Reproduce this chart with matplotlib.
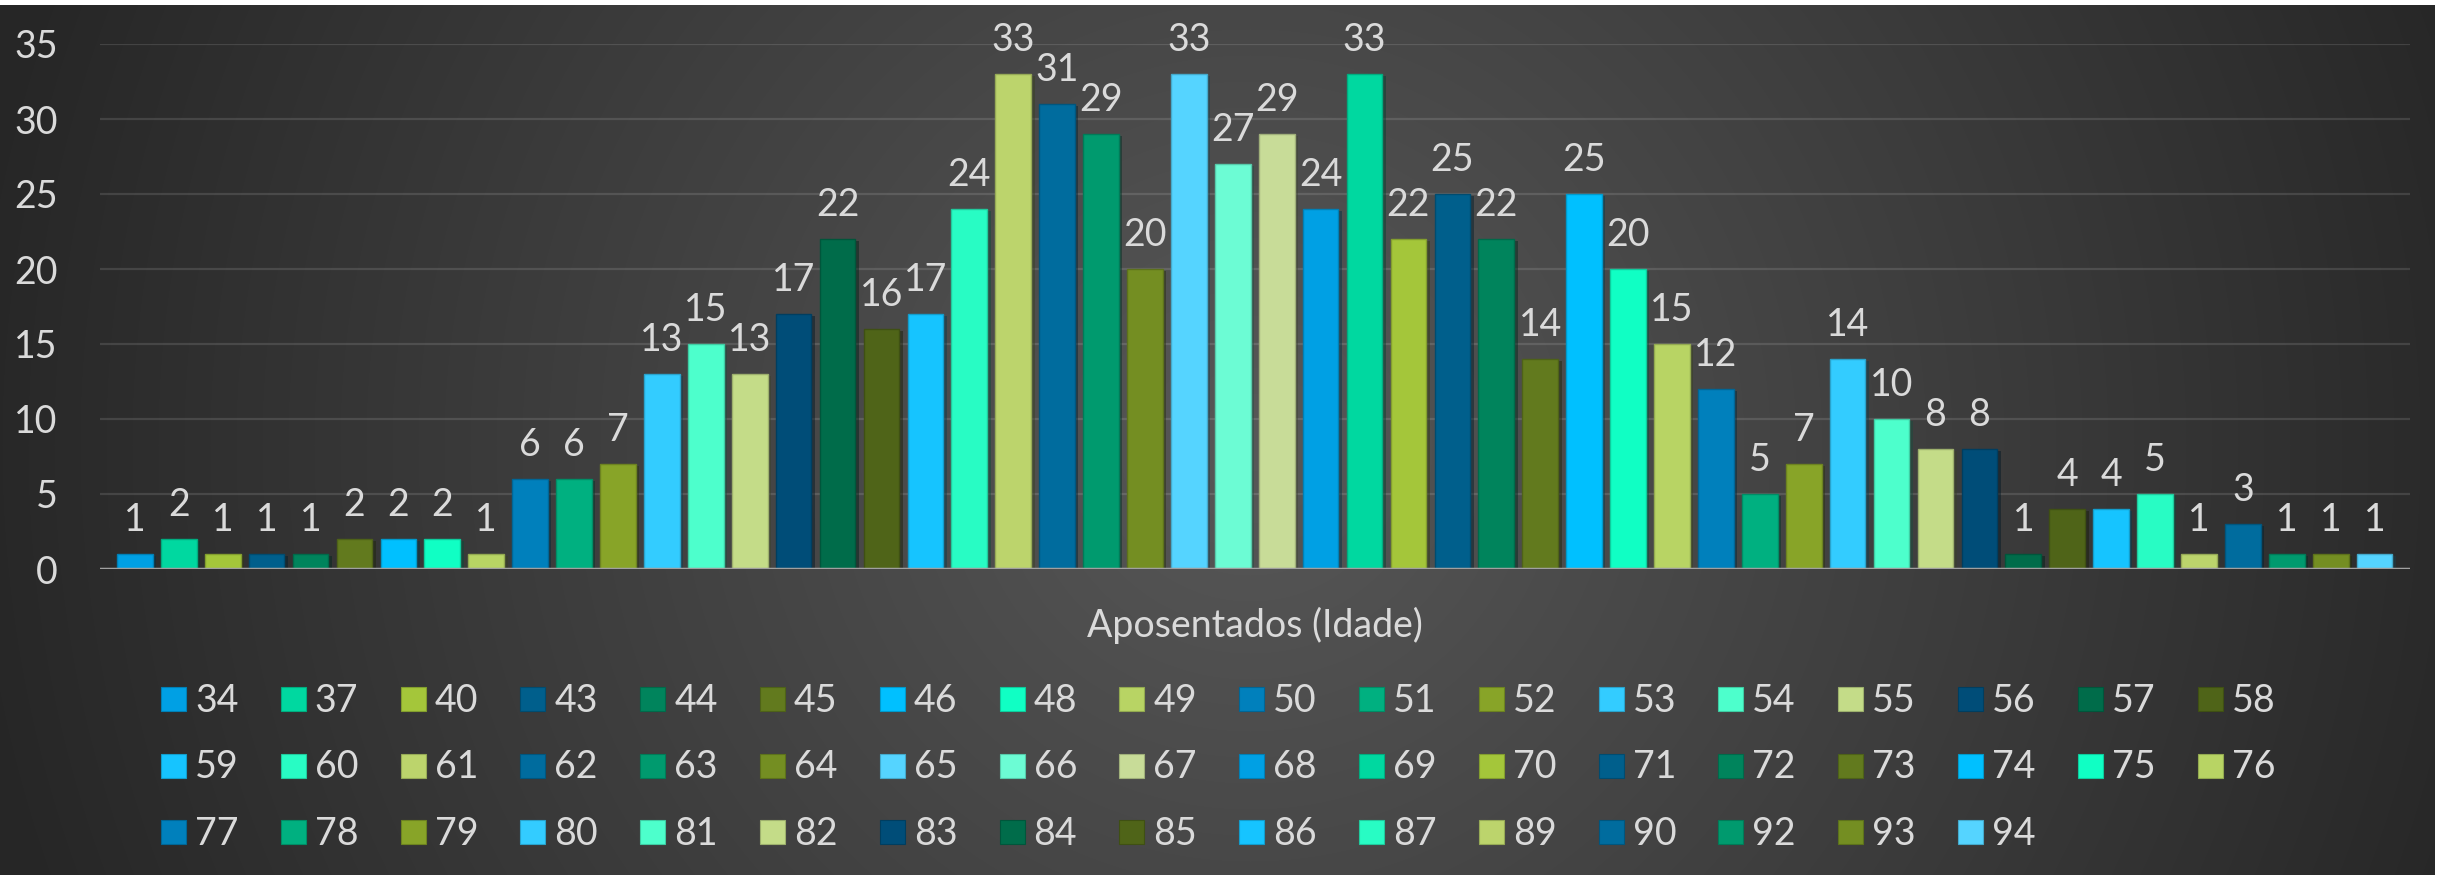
import numpy as np
import matplotlib
matplotlib.use("Agg")
import matplotlib.pyplot as plt
from matplotlib.patches import Rectangle
import matplotlib.patheffects as pe

plt.rcParams['font.family'] = ['Lato', 'DejaVu Sans']

# ---- data ----
ages = [34, 37, 40, 43, 44, 45, 46, 48, 49, 50, 51, 52, 53, 54, 55, 56, 57, 58,
        59, 60, 61, 62, 63, 64, 65, 66, 67, 68, 69, 70, 71, 72, 73, 74, 75, 76,
        77, 78, 79, 80, 81, 82, 83, 84, 85, 86, 87, 89, 90, 92, 93, 94]
counts = [1, 2, 1, 1, 1, 2, 2, 2, 1, 6, 6, 7, 13, 15, 13, 17, 22, 16,
          17, 24, 33, 31, 29, 20, 33, 27, 29, 24, 33, 22, 25, 22, 14, 25, 20, 15,
          12, 5, 7, 14, 10, 8, 8, 1, 4, 4, 5, 1, 3, 1, 1, 1]
axis_title = "Aposentados (Idade)"
yticks = [0, 5, 10, 15, 20, 25, 30, 35]

palette = ['#00a0e4', '#00d8a0', '#a4c63a', '#005f8c', '#00845c', '#627a1e',
           '#00c0ff', '#10ffc4', '#b8d464', '#0080bc', '#00b080', '#88a428',
           '#33ccff', '#4dffcc', '#c4dc88', '#004d78', '#006c4a', '#4f6418',
           '#16c4ff', '#28fcc4', '#bcd46c', '#006c9e', '#009a6e', '#748e22',
           '#55d4ff', '#6cfcd4', '#c8dc98']

W, H = 2440, 875
fig = plt.figure(figsize=(W / 100, H / 100), dpi=100, facecolor='white')

# ---- radial gradient background ----
bg = fig.add_axes([0, 0, 2435 / W, 870 / H])
bg.set_axis_off()
yy, xx = np.mgrid[0:870, 0:2435]
d = np.hypot(xx - 1250, yy - 440) / 1300.0
d = np.clip(d, 0, 1)
c0, c1 = 0x58 / 255, 0x26 / 255
img = c0 + (c1 - c0) * d
bg.imshow(np.dstack([img, img, img]), aspect='auto', interpolation='bilinear')

# ---- main axes ----
ax = fig.add_axes([99.5 / W, 1 - 569 / H, (2410 - 99.5) / W, 525 / H])
ax.set_facecolor('none')
x = np.arange(len(ages))
colors = [palette[i % len(palette)] for i in range(len(ages))]


def darker(c, f=0.8):
    r, g, b, _ = matplotlib.colors.to_rgba(c)
    return (r * f, g * f, b * f)


bars = ax.bar(x, counts, width=0.813, color=colors,
              edgecolor=[darker(c) for c in colors], linewidth=1.0, zorder=3)
for b in bars:
    b.set_path_effects([pe.SimplePatchShadow(offset=(2.5, -1.5), alpha=0.45),
                        pe.Normal()])

txt_color = '#dadada'
for xi, v in zip(x, counts):
    ax.annotate(str(v), (xi, v), xytext=(0, 16.5), textcoords='offset points',
                ha='center', va='baseline', fontsize=27, color=txt_color,
                zorder=5)

ax.set_xlim(-0.805, len(ages) - 1 + 0.805)
ax.set_ylim(0, 35)
ax.set_yticks(yticks)
ax.set_xticks([])
ax.tick_params(axis='y', length=0, pad=30, labelsize=27, labelcolor=txt_color)
for s in ax.spines.values():
    s.set_visible(False)
ax.yaxis.grid(True, color='white', alpha=0.12, linewidth=1.6, zorder=0)
ax.set_axisbelow(True)
ax.axhline(0, color='#a0a0a0', linewidth=2.5, zorder=4)

# ---- axis title ----
fig.text(1255 / W, 1 - 637 / H, axis_title, ha='center', va='baseline',
         fontsize=27, color=txt_color)

# ---- legend (row-major, 18 columns) ----
ncol = 18
x0, pitch = 161, 119.8
row0, rowpitch = 711, 66.5
for i, (age, c) in enumerate(zip(ages, colors)):
    r, cidx = divmod(i, ncol)
    mx = x0 + cidx * pitch
    base = row0 + r * rowpitch
    fig.patches.append(Rectangle((mx / W, 1 - base / H), 25 / W, 24 / H,
                                 transform=fig.transFigure, facecolor=c,
                                 edgecolor=darker(c), linewidth=0.8))
    fig.text((mx + 34) / W, 1 - (base + 1) / H, str(age), ha='left',
             va='baseline', fontsize=27, color=txt_color)

fig.savefig('out.png', dpi=100, facecolor='white')
